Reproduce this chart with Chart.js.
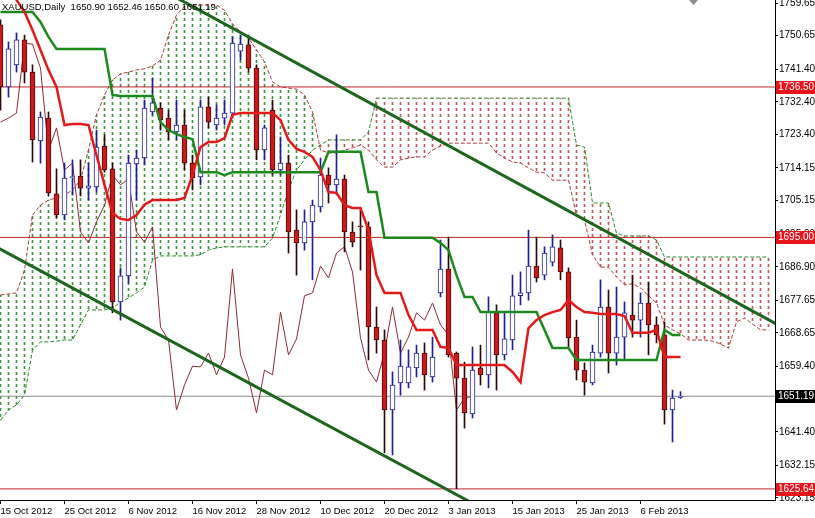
<!DOCTYPE html>
<html>
<head>
<meta charset="utf-8">
<script src="https://cdn.jsdelivr.net/npm/chart.js@4.4.1/dist/chart.umd.min.js"></script>
<style>
  html, body { margin: 0; padding: 0; background: #fff; }
  #wrap { width: 815px; height: 518px; }
</style>
</head>
<body>
<div id="wrap"><canvas id="graph" width="815" height="518"></canvas></div>
<script>
// ---- data ----
const header = 'XAUUSD,Daily  1650.90 1652.46 1650.60 1651.19';
const dateLabels = ['15 Oct 2012', '25 Oct 2012', '6 Nov 2012', '16 Nov 2012', '28 Nov 2012',
  '10 Dec 2012', '20 Dec 2012', '3 Jan 2013', '15 Jan 2013', '25 Jan 2013', '6 Feb 2013'];
const dateTickBars = [0, 8, 16, 24, 32, 40, 48, 56, 64, 72, 80];
const priceTicks = [1759.65, 1750.65, 1741.40, 1732.40, 1723.40, 1714.15, 1705.15, 1695.90,
  1686.90, 1677.65, 1668.65, 1659.40, 1650.40, 1641.40, 1632.15, 1623.15];

const opens = [1753.6,1736.5,1742.6,1749.5,1740.6,1721.6,1727.9,1707.0,1701.2,1711.5,
  1711.9,1708.6,1708.9,1720.2,1713.9,1677.2,1684.4,1715.3,1716.9,1729.6,
  1730.7,1727.9,1724.1,1726.0,1715.5,1711.7,1731.0,1726.0,1727.9,1729.3,
  1746.4,1748.1,1741.7,1719.1,1730.1,1713.6,1715.5,1697.0,1693.5,1699.3,
  1703.4,1712.2,1709.5,1711.1,1696.5,1698.2,1697.9,1670.3,1666.7,1647.4,
  1654.9,1654.9,1659.0,1663.1,1656.5,1679.7,1686.3,1663.1,1656.2,1646.3,
  1659.0,1657.1,1674.2,1662.6,1666.7,1678.9,1679.7,1687.1,1684.6,1688.2,
  1692.1,1685.5,1667.5,1658.4,1654.9,1663.1,1675.8,1663.1,1667.5,1673.6,
  1672.2,1676.9,1670.9,1668.1,1647.4,1650.90];
const highs = [1755.0,1748.9,1751.4,1750.8,1742.6,1729.6,1729.6,1713.9,1715.5,1716.4,
  1716.4,1715.5,1724.6,1723.3,1715.5,1686.6,1717.7,1719.1,1732.9,1739.0,
  1732.1,1730.1,1732.9,1730.1,1717.7,1732.9,1733.7,1731.5,1732.9,1750.3,
  1750.8,1750.8,1742.6,1726.0,1732.9,1722.7,1717.7,1702.6,1702.6,1705.3,
  1716.9,1714.2,1723.3,1712.2,1699.3,1702.6,1699.3,1675.8,1669.5,1657.9,
  1666.7,1664.0,1665.3,1665.9,1667.5,1694.3,1695.1,1663.4,1660.6,1664.8,
  1665.3,1678.6,1676.4,1674.2,1684.6,1685.5,1697.0,1695.1,1692.4,1695.7,
  1694.3,1686.6,1672.2,1660.4,1665.3,1683.3,1680.5,1681.3,1677.2,1684.6,
  1679.7,1682.7,1673.1,1671.7,1652.9,1652.46];
const lows = [1730.1,1733.7,1740.6,1737.6,1715.8,1715.5,1706.4,1700.4,1699.8,1706.7,
  1706.4,1705.3,1707.5,1713.0,1674.2,1672.2,1682.4,1705.3,1715.0,1728.8,
  1724.6,1721.9,1721.9,1713.6,1708.1,1709.5,1725.2,1724.6,1726.0,1727.9,
  1743.9,1740.6,1716.4,1716.4,1712.2,1712.2,1690.7,1684.6,1691.5,1683.3,
  1702.0,1704.5,1706.7,1691.0,1692.4,1686.0,1661.2,1663.1,1635.6,1635.0,
  1651.5,1653.5,1656.5,1652.9,1655.1,1678.6,1662.0,1625.64,1642.4,1645.2,
  1654.3,1653.5,1652.9,1661.2,1664.0,1676.4,1677.7,1682.7,1683.3,1687.1,
  1683.3,1664.8,1655.7,1651.5,1654.3,1662.0,1657.6,1659.8,1661.2,1667.5,
  1667.5,1662.6,1665.9,1643.5,1638.6,1650.60];
const closes = [1736.5,1747.0,1749.5,1740.6,1721.9,1728.2,1707.3,1701.2,1711.4,1711.8,
  1708.6,1709.2,1719.9,1713.6,1677.2,1684.4,1715.5,1716.9,1730.7,1732.1,
  1727.4,1724.1,1726.0,1715.5,1711.4,1731.0,1726.8,1727.9,1729.3,1748.6,
  1748.3,1741.7,1719.1,1725.2,1713.6,1715.5,1696.5,1693.5,1699.3,1703.9,
  1712.2,1709.5,1711.1,1696.5,1693.7,1697.9,1670.3,1666.7,1647.4,1654.3,
  1659.5,1659.3,1663.1,1657.1,1662.0,1686.3,1662.6,1656.2,1646.6,1658.4,
  1657.1,1674.4,1662.6,1667.0,1678.9,1679.7,1687.1,1683.8,1690.7,1692.4,
  1685.5,1667.3,1658.4,1655.1,1663.4,1675.8,1663.1,1667.5,1674.2,1672.2,
  1676.9,1670.9,1668.1,1647.4,1650.7,1651.19];

// ichimoku lines
const tenkan = [1766.0,1763.0,1760.5,1757.2,1752.2,1746.7,1741.2,1736.5,1726.0,1726.3,
  1726.3,1726.0,1717.7,1709.5,1701.7,1700.1,1699.8,1701.2,1704.0,1705.3,
  1705.3,1705.3,1705.3,1705.9,1712.2,1719.9,1721.3,1721.3,1722.4,1728.8,
  1729.3,1729.3,1729.3,1729.3,1729.3,1727.4,1721.9,1719.4,1718.6,1717.2,
  1713.6,1707.5,1707.3,1703.9,1703.1,1703.1,1697.0,1684.6,1679.7,1679.7,
  1679.7,1673.6,1669.5,1669.5,1669.5,1664.8,1664.5,1659.8,1659.8,1659.8,
  1659.8,1659.8,1659.8,1659.8,1657.9,1655.1,1670.0,1672.2,1673.6,1674.4,
  1675.0,1677.7,1675.8,1674.4,1674.2,1673.9,1673.9,1673.9,1673.3,1668.7,
  1668.7,1668.7,1669.5,1662.0,1662.0,1662.0];
const kijun = [1757.2,1757.2,1757.2,1757.2,1757.2,1754.4,1750.3,1747.0,1747.0,1747.0,
  1747.0,1747.0,1747.0,1747.0,1734.3,1734.0,1734.0,1734.0,1734.0,1734.0,
  1726.8,1724.6,1723.5,1722.7,1722.1,1713.0,1713.0,1713.0,1712.2,1713.0,
  1713.0,1713.0,1713.0,1713.0,1713.0,1713.0,1713.0,1713.0,1713.0,1713.0,
  1713.0,1718.6,1718.6,1718.6,1718.6,1718.6,1707.5,1707.5,1694.9,1694.9,
  1694.9,1694.9,1694.9,1694.9,1694.9,1693.5,1691.5,1684.6,1678.6,1678.6,
  1674.4,1674.4,1674.4,1674.4,1674.4,1674.4,1674.4,1674.4,1669.5,1664.5,
  1664.5,1664.5,1661.2,1661.2,1661.2,1661.2,1661.2,1661.2,1661.2,1661.2,
  1661.2,1661.2,1661.2,1669.5,1668.1,1668.1];
// lagging line, plotted from the first bar
const chikou = [1726.8,1727.9,1729.3,1748.6,1748.3,1741.7,1719.1,1725.2,1713.6,1715.5,
  1696.5,1693.5,1699.3,1703.9,1712.2,1709.5,1711.1,1696.5,1693.7,1697.9,
  1670.3,1666.7,1647.4,1654.3,1659.5,1659.3,1663.1,1657.1,1662.0,1686.3,
  1662.6,1656.2,1646.6,1658.4,1657.1,1674.4,1662.6,1667.0,1678.9,1679.7,
  1687.1,1683.8,1690.7,1692.4,1685.5,1667.3,1658.4,1655.1,1663.4,1675.8,
  1663.1,1667.5,1674.2,1672.2,1676.9,1670.9,1668.1,1647.4,1650.7,1651.19];
// cloud edges (red thin span and green thin span), bars 0..96
const spanRed = [1679.1,1679.4,1679.7,1686.0,1701.2,1703.9,1705.3,1705.9,1706.7,1708.1,
  1710.8,1719.1,1728.8,1734.3,1738.4,1740.1,1740.6,1741.2,1741.5,1742.3,
  1743.9,1750.8,1756.3,1758.8,1759.1,1759.1,1759.1,1759.1,1757.7,1753.9,
  1751.7,1750.0,1746.7,1743.4,1737.9,1736.5,1736.2,1735.9,1734.3,1729.6,
  1719.1,1718.3,1718.3,1719.1,1719.7,1720.5,1719.1,1716.4,1714.4,1714.4,
  1716.4,1716.9,1717.2,1717.2,1719.1,1720.2,1721.0,1721.0,1721.0,1721.0,
  1721.0,1721.0,1718.3,1716.9,1715.8,1715.5,1714.2,1713.0,1712.8,1710.8,
  1710.8,1710.8,1701.2,1699.8,1690.2,1686.8,1686.8,1684.1,1681.9,1682.2,
  1681.1,1678.9,1676.9,1670.9,1669.5,1668.4,1666.7,1666.7,1666.7,1666.4,
  1665.6,1664.5,1671.7,1672.8,1671.1,1669.5,1669.5];
const spanGreen = [1644.6,1647.4,1648.8,1651.5,1663.9,1666.2,1666.2,1666.4,1666.7,1666.7,
  1670.9,1675.0,1675.0,1675.0,1675.5,1677.2,1678.3,1679.7,1681.3,1688.8,
  1689.9,1689.9,1689.9,1689.9,1689.9,1690.2,1691.5,1692.1,1692.4,1692.4,
  1692.4,1692.4,1692.4,1692.4,1694.8,1701.2,1708.1,1713.6,1716.4,1719.1,
  1720.5,1721.9,1721.9,1721.9,1721.9,1721.9,1724.1,1733.4,1733.4,1733.4,
  1733.4,1733.4,1733.4,1733.4,1733.4,1733.4,1733.4,1733.4,1733.4,1733.4,
  1733.4,1733.4,1733.4,1733.4,1733.4,1733.4,1733.4,1733.4,1733.4,1733.4,
  1733.4,1733.4,1720.5,1719.9,1704.5,1704.5,1704.5,1696.2,1695.4,1695.4,
  1695.4,1695.4,1694.3,1689.6,1689.6,1689.6,1689.6,1689.6,1689.6,1689.6,
  1689.6,1689.6,1689.6,1689.6,1689.6,1689.6,1689.6];

const redLevels = [1736.50, 1695.00, 1625.64];
const lastPrice = 1651.19;
const upperTrend = [[20, 1763.5], [97, 1671.1]];
const lowerTrend = [[-1, 1692.9], [60, 1620.5]];

// ---- helpers ----
const pts = arr => arr.map((v, i) => ({ x: i, y: v }));
const canvas = document.getElementById('graph');
const ctx = canvas.getContext('2d');
function hatch(color) {
  const c = document.createElement('canvas');
  c.width = 1; c.height = 6;
  const g = c.getContext('2d');
  g.fillStyle = color;
  g.fillRect(0, 0, 1, 3);
  return ctx.createPattern(c, 'repeat');
}
const greenHatch = hatch('#3a983a');
const redHatch = hatch('#c65656');

const isBull = i => closes[i] >= opens[i];
const bullColor = '#1e1e9a';
const bearFill = '#cc1a1a';
const bearEdge = '#4a0c0c';

const hline = (y, color, order) => ({
  type: 'line', data: [{ x: -2, y: y }, { x: 100, y: y }],
  borderColor: color, borderWidth: 1, pointRadius: 0, order: order
});

// price tags + header text
const overlay = {
  id: 'overlay',
  afterDraw(chart) {
    const c = chart.ctx;
    const ys = chart.scales.y;
    c.save();
    c.font = '10px "Liberation Sans"';
    c.textBaseline = 'middle';
    const tag = (price, bg) => {
      const py = Math.round(ys.getPixelForValue(price));
      c.fillStyle = bg;
      c.fillRect(776, py - 6, 39, 13);
      c.fillStyle = '#ffffff';
      c.fillText(price.toFixed(2), 778, py + 0.5);
    };
    redLevels.forEach(p => tag(p, '#e8141c'));
    tag(lastPrice, '#000000');
    c.fillStyle = '#000000';
    c.font = '9.5px "Liberation Sans"';
    c.textBaseline = 'top';
    c.fillText(header, 2, 3);
    // chart shift marker
    c.fillStyle = '#8c8c8c';
    c.beginPath();
    c.moveTo(689, 0); c.lineTo(698, 0); c.lineTo(693.5, 5); c.closePath();
    c.fill();
    c.restore();
  }
};

const config = {
  type: 'bar',
  data: {
    datasets: [
      // trend lines
      { type: 'line', data: upperTrend.map(p => ({ x: p[0], y: p[1] })), borderColor: '#1d661d',
        borderWidth: 3, pointRadius: 0, order: 1 },
      { type: 'line', data: lowerTrend.map(p => ({ x: p[0], y: p[1] })), borderColor: '#1d661d',
        borderWidth: 3, pointRadius: 0, order: 1 },
      // tenkan / kijun
      { type: 'line', data: pts(tenkan), borderColor: '#e21a1a', borderWidth: 2.5,
        pointRadius: 0, order: 2 },
      { type: 'line', data: pts(kijun), borderColor: '#1c8a1c', borderWidth: 2.5,
        pointRadius: 0, order: 2 },
      // candle bodies
      { data: opens.map((o, i) => ({ x: i, y: [o, closes[i]] })), barThickness: 5,
        grouped: false, borderWidth: 1, borderSkipped: false, minBarLength: 1,
        backgroundColor: c => isBull(c.dataIndex) ? '#ffffff' : bearFill,
        borderColor: c => isBull(c.dataIndex) ? bullColor : bearEdge, order: 3 },
      // wicks
      { data: lows.map((l, i) => ({ x: i, y: [l, highs[i]] })), barThickness: 1,
        grouped: false, borderWidth: 0,
        backgroundColor: c => isBull(c.dataIndex) ? bullColor : '#2a0808', order: 4 },
      // chikou
      { type: 'line', data: pts(chikou), borderColor: '#8e2a35', borderWidth: 1,
        pointRadius: 0, order: 5 },
      // level lines
      hline(redLevels[0], '#c0262d', 6),
      hline(redLevels[1], '#c0262d', 6),
      hline(redLevels[2], '#c0262d', 6),
      hline(lastPrice, '#8a8a8a', 6),
      // cloud edges
      { type: 'line', data: pts(spanRed), borderColor: '#b03a3a', borderWidth: 1,
        borderDash: [4, 2], pointRadius: 0, order: 7 },
      { type: 'line', data: pts(spanGreen), borderColor: '#2a8a2a', borderWidth: 1,
        borderDash: [4, 2], pointRadius: 0, order: 7 },
      // cloud hatching
      { data: spanRed.map((r, i) => ({ x: i, y: [Math.min(r, spanGreen[i]), Math.max(r, spanGreen[i])] })),
        barThickness: 1, grouped: false, borderWidth: 0,
        backgroundColor: c => spanRed[c.dataIndex] > spanGreen[c.dataIndex] ? greenHatch : redHatch,
        order: 8 }
    ]
  },
  options: {
    responsive: false,
    animation: false,
    devicePixelRatio: 1,
    layout: { padding: 0, autoPadding: false },
    plugins: { legend: { display: false }, tooltip: { enabled: false } },
    elements: { line: { tension: 0 } },
    scales: {
      x: {
        type: 'linear', position: 'bottom', offset: false,
        min: -0.0625, max: 96.8125,
        afterBuildTicks: s => { s.ticks = dateTickBars.map(v => ({ value: v })); },
        afterFit: s => { s.height = 18; s.paddingLeft = 0; s.paddingRight = 0; },
        border: { display: true, color: '#000000', width: 1 },
        grid: { display: true, drawOnChartArea: false, drawTicks: true, tickLength: 4,
          color: '#000000', offset: false },
        ticks: {
          autoSkip: false, maxRotation: 0, align: 'start', padding: 2, color: '#000000',
          font: { family: 'Liberation Sans', size: 9.5 },
          callback: v => dateLabels[dateTickBars.indexOf(v)]
        }
      },
      y: {
        type: 'linear', position: 'right', beginAtZero: false,
        min: 1622.58, max: 1760.48,
        afterBuildTicks: s => { s.ticks = priceTicks.map(v => ({ value: v })); },
        afterFit: s => { s.width = 40; s.paddingTop = 0; s.paddingBottom = 0; },
        border: { display: true, color: '#000000', width: 1 },
        grid: { display: true, drawOnChartArea: false, drawTicks: true, tickLength: 3,
          color: '#000000' },
        ticks: {
          padding: 1, color: '#000000',
          font: { family: 'Liberation Sans', size: 10 },
          callback: v => v.toFixed(2)
        }
      }
    }
  },
  plugins: [overlay]
};

const myChart = new Chart(canvas, config);
</script>
</body>
</html>
